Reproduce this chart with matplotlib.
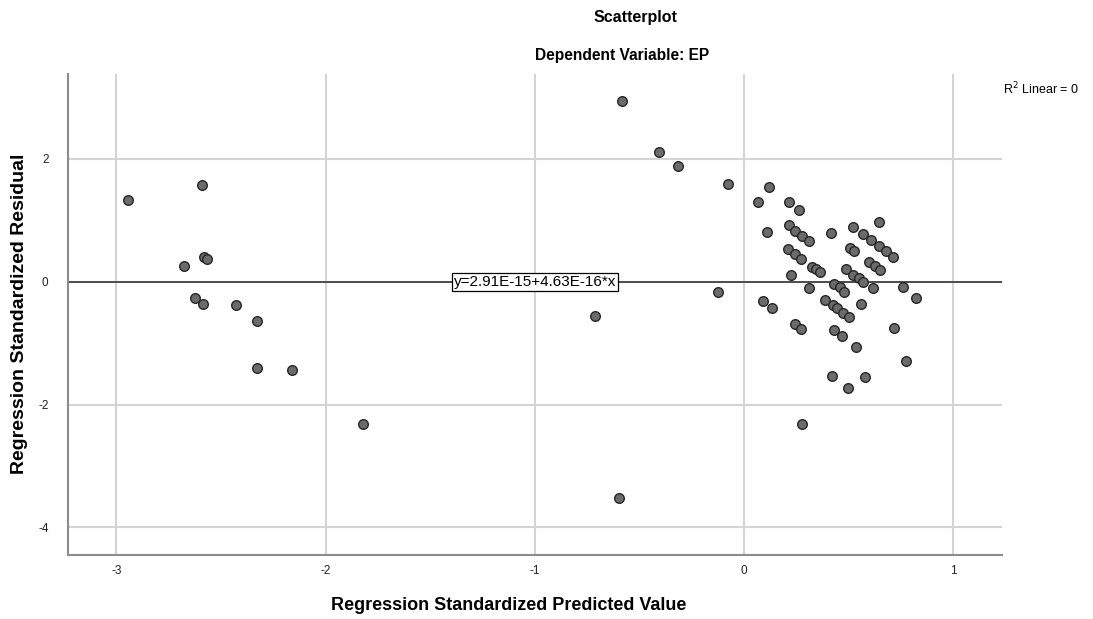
import matplotlib
matplotlib.use('Agg')
import matplotlib.pyplot as plt

# 散布図のデータ（標準化予測値と標準化残差）
x_left = [-2.943, -2.592, -2.676, -2.579, -2.568, -2.623, -2.584, -2.426, -2.326, -2.326, -2.159, -1.820]
y_left = [1.326, 1.575, 0.256, 0.397, 0.370, -0.261, -0.363, -0.379, -0.640, -1.406, -1.443, -2.311]

x_mid = [-0.583, -0.406, -0.317, -0.075, -0.123, -0.712, -0.597]
y_mid = [2.943, 2.112, 1.884, 1.600, -0.163, -0.559, -3.520]

x_right = [0.121, 0.065, 0.213, 0.264, 0.108, 0.213, 0.245, 0.277, 0.310, 0.212, 0.243, 0.272,
           0.224, 0.326, 0.344, 0.363, 0.310, 0.089, 0.135, 0.245, 0.271, 0.277,
           0.416, 0.519, 0.643, 0.570, 0.605, 0.643, 0.678, 0.713, 0.506, 0.527, 0.597, 0.623,
           0.650, 0.487, 0.522, 0.549, 0.570, 0.615, 0.431, 0.458, 0.479, 0.757, 0.823, 0.387,
           0.424, 0.446, 0.471, 0.501, 0.559, 0.430, 0.468, 0.535, 0.718, 0.775, 0.421, 0.578, 0.495]
y_right = [1.537, 1.293, 1.293, 1.168, 0.805, 0.918, 0.826, 0.749, 0.668, 0.533, 0.446, 0.375,
           0.114, 0.239, 0.202, 0.158, -0.103, -0.309, -0.423, -0.694, -0.775, -2.318,
           0.788, 0.891, 0.967, 0.772, 0.679, 0.586, 0.500, 0.407, 0.554, 0.500, 0.326, 0.256,
           0.191, 0.212, 0.109, 0.065, 0.000, -0.107, -0.037, -0.091, -0.163, -0.091, -0.261, -0.298,
           -0.379, -0.434, -0.505, -0.570, -0.363, -0.792, -0.884, -1.059, -0.759, -1.287, -1.536, -1.557, -1.726]

x_vals = x_left + x_mid + x_right
y_vals = y_left + y_mid + y_right

# 回帰直線（切片と傾き）
intercept = 2.91e-15
slope = 4.63e-16
fit_label = 'y=2.91E-15+4.63E-16*x'
r2_label = 'R$^2$ Linear = 0'

x_ticks = [-3, -2, -1, 0, 1]
y_ticks = [2, 0, -2, -4]


def draw_scatter():
    plt.rcParams['font.family'] = ['Liberation Sans', 'DejaVu Sans']

    fig = plt.figure(figsize=(10.93, 6.19), dpi=100)
    ax = fig.add_axes([0.0622, 0.1034, 0.8545, 0.7777])

    xmin, xmax = -3.231, 1.232
    ax.set_xlim(xmin, xmax)
    ax.set_ylim(-4.45, 3.39)

    # グリッド線
    for t in x_ticks:
        ax.axvline(t, color='#d4d4d4', lw=1.5, zorder=1)
    for t in y_ticks:
        ax.axhline(t, color='#d4d4d4', lw=1.5, zorder=1)

    # 回帰直線
    ax.plot([xmin, xmax], [intercept + slope * xmin, intercept + slope * xmax],
            color='#4d4d4d', lw=1.4, zorder=2)

    ax.scatter(x_vals, y_vals, s=48, facecolor='#6b6b6b', edgecolor='#262626',
               linewidths=1.0, zorder=3)

    ax.text(-1.0, intercept + slope * -1.0, fit_label, fontsize=11, ha='center', va='center',
            bbox=dict(boxstyle='square,pad=0.12', facecolor='white', edgecolor='black', lw=0.9),
            zorder=4)

    ax.set_xticks(x_ticks)
    ax.set_yticks(y_ticks)
    ax.set_xticklabels([str(t) for t in x_ticks])
    ax.set_yticklabels([str(t) for t in y_ticks])
    ax.tick_params(axis='both', length=0, labelsize=8.5, colors='#222222')
    ax.tick_params(axis='x', pad=7)
    ax.tick_params(axis='y', pad=14)

    for side in ['top', 'right']:
        ax.spines[side].set_visible(False)
    for side in ['left', 'bottom']:
        ax.spines[side].set_color('#8c8c8c')
        ax.spines[side].set_linewidth(1.5)

    # 軸ラベル（位置は元画像に合わせる）
    fig.text(509 / 1093, 1 - 605 / 619, 'Regression Standardized Predicted Value',
             fontsize=13, fontweight='bold', ha='center', va='center')
    fig.text(20 / 1093, 1 - 314 / 619, 'Regression Standardized Residual',
             fontsize=14, fontweight='bold', ha='center', va='center', rotation=90)

    fig.text(0.581, 0.971, 'Scatterplot', fontsize=11.5, fontweight='bold', ha='center', va='center')
    fig.text(0.569, 0.911, 'Dependent Variable: EP', fontsize=11.2, fontweight='bold', ha='center', va='center')
    fig.text(0.918, 0.857, r2_label, fontsize=9, ha='left', va='center')

    fig.savefig('out.png', dpi=100)
    plt.close(fig)


if __name__ == '__main__':
    draw_scatter()
